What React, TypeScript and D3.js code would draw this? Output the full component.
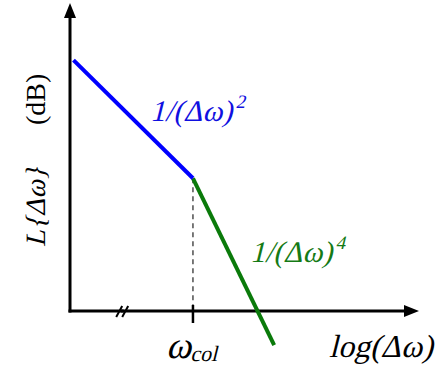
import React from "react";
import * as d3 from "d3";

const blueX = [0.03, 1.06];
const blueY = [43.3, 22.9];
const greenX = [1.06, 1.76];
const greenY = [22.9, -5.9];
const omegaCol = 1.06;
const breakAt = 0.45;

const W = 439, H = 372;
const x = d3.scaleLinear().domain([0, 3]).range([70, 418]);
const y = d3.scaleLinear().domain([0, 52.8]).range([311, 5]);

const serif = "Liberation Serif, DejaVu Serif, serif";
const SK = -14;

export default function App() {
  const line = d3.line<[number, number]>().x(d => x(d[0])).y(d => y(d[1]));
  const blue = blueX.map((v, i) => [v, blueY[i]] as [number, number]);
  const green = greenX.map((v, i) => [v, greenY[i]] as [number, number]);
  const x0 = x(0), y0 = y(0);
  const xc = x(omegaCol);
  const xb = x(breakAt);
  const ts: React.CSSProperties = { fontFamily: serif };
  return (
    <svg width={W} height={H} style={{ position: "absolute", left: 0, top: 0, background: "#fff" }}>
      {/* dashed */}
      <line x1={xc} x2={xc} y1={y(blueY[1])} y2={y0} stroke="#222" strokeWidth={1.2} strokeDasharray="5,4" />
      {/* axes */}
      <line x1={x0} x2={x0} y1={y0 + 1.5} y2={14} stroke="#000" strokeWidth={3} />
      <path d={`M${x0},3 L${x0 - 6},18 L${x0 + 6},18 Z`} fill="#000" />
      <line x1={x0 - 1.5} x2={408} y1={y0} y2={y0} stroke="#000" strokeWidth={3} />
      <path d={`M419,${y0} L404,${y0 - 6} L404,${y0 + 6} Z`} fill="#000" />
      {/* break marks */}
      <line x1={xb - 6} x2={xb} y1={y0 + 6} y2={y0 - 5} stroke="#000" strokeWidth={2} />
      <line x1={xb} x2={xb + 6} y1={y0 + 6} y2={y0 - 5} stroke="#000" strokeWidth={2} />
      <line x1={xb - 1.5} x2={xb + 1.5} y1={y0} y2={y0} stroke="#000" strokeWidth={3} />
      {/* tick */}
      <line x1={xc} x2={xc} y1={y0 - 6} y2={y0 + 12} stroke="#000" strokeWidth={2.5} />
      {/* lines */}
      <path d={line(green) || ""} fill="none" stroke="#0a7a0a" strokeWidth={4} />
      <path d={line(blue) || ""} fill="none" stroke="#0000ff" strokeWidth={4} />
      {/* labels */}
      <text transform={`translate(150,121) skewX(${SK})`} fill="#1010e0" style={ts} fontSize={30}>
        1/(Δω)<tspan dy={-13} fontSize={19}>2</tspan>
      </text>
      <text transform={`translate(250,262) skewX(${SK})`} fill="#157a15" style={ts} fontSize={30}>
        1/(Δω)<tspan dy={-13} fontSize={19}>4</tspan>
      </text>
      <text transform={`translate(166,358) skewX(${SK})`} fill="#000" style={ts} fontSize={38}>
        ω<tspan fontSize={22} dy={3}>col</tspan>
      </text>
      <text transform={`translate(329,357) skewX(${SK})`} fill="#000" style={ts} fontSize={32}>
        log(Δω)
      </text>
      <g transform="translate(45,247) rotate(-90)">
        <text transform={`skewX(${SK})`} fill="#000" style={ts} fontSize={28}>
          L{"{Δω}"}
        </text>
        <text x={122} fill="#000" style={ts} fontSize={28}>(dB)</text>
      </g>
    </svg>
  );
}
